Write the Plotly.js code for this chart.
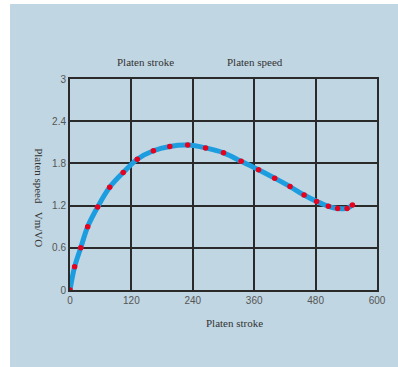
<!DOCTYPE html>
<html><head><meta charset="utf-8">
<script src="https://cdn.plot.ly/plotly-3.0.1.min.js"></script>
<style>
html,body{margin:0;padding:0;background:#fff;}
#bg{position:absolute;left:10px;top:4px;width:388px;height:363px;background:#c0d6e2;}
#chart{position:absolute;left:0;top:0;width:398px;height:367px;}
</style></head>
<body>
<div id="bg"></div>
<div id="chart"></div>
<script>
const stroke = [0, 9, 21, 34.5, 54, 77.5, 104, 131.5, 163, 195, 230, 265, 300, 334.5, 368.5, 400, 430, 457.5, 482, 505, 523, 541.5, 552];
const speed  = [0, 0.33, 0.60, 0.90, 1.18, 1.46, 1.67, 1.86, 1.98, 2.04, 2.06, 2.02, 1.95, 1.83, 1.71, 1.59, 1.47, 1.35, 1.26, 1.19, 1.16, 1.16, 1.21];
const xTicks = [0, 120, 240, 360, 480, 600];
const yTicks = [0, 0.6, 1.2, 1.8, 2.4, 3];

const serif = 'Liberation Serif, Times New Roman, serif';
const sans = 'Liberation Sans, Arial, sans-serif';

const traces = [
  {x: stroke, y: speed, mode: 'lines', line: {color: '#1b9ddf', width: 5, shape: 'spline', smoothing: 1}, hoverinfo: 'skip'},
  {x: stroke, y: speed, mode: 'markers', marker: {color: '#e8001c', size: 5.5}, hoverinfo: 'skip'}
];

const axisCommon = {
  showgrid: true, gridcolor: '#2a2a2a', gridwidth: 2,
  showline: true, linecolor: '#2a2a2a', linewidth: 2, mirror: true,
  zeroline: false, ticks: '', tickfont: {family: sans, size: 10, color: '#555'}
};

const titleFont = {family: serif, size: 11, color: '#333'};

const layout = {
  width: 398, height: 367,
  margin: {l: 70, r: 21, t: 79, b: 77},
  paper_bgcolor: 'rgba(0,0,0,0)', plot_bgcolor: 'rgba(0,0,0,0)',
  showlegend: false,
  xaxis: Object.assign({}, axisCommon, {range: [0, 600], tickvals: xTicks, ticktext: xTicks.map(String)}),
  yaxis: Object.assign({}, axisCommon, {range: [0, 3], tickvals: yTicks, ticktext: yTicks.map(String)}),
  annotations: [
    {xref: 'paper', yref: 'paper', x: 0.245, y: 1.0, yshift: 17, xanchor: 'center', yanchor: 'middle', text: 'Platen stroke', showarrow: false, font: titleFont},
    {xref: 'paper', yref: 'paper', x: 0.603, y: 1.0, yshift: 17, xanchor: 'center', yanchor: 'middle', text: 'Platen speed', showarrow: false, font: titleFont},
    {xref: 'paper', yref: 'paper', x: 0.537, y: 0, yshift: -33, xanchor: 'center', yanchor: 'middle', text: 'Platen stroke', showarrow: false, font: titleFont},
    {xref: 'paper', yref: 'paper', x: 0, xshift: -31, y: 0.44, xanchor: 'center', yanchor: 'middle', text: 'Platen speed&nbsp;&nbsp;&nbsp;Vm/VO', textangle: 90, showarrow: false, font: titleFont}
  ]
};

Plotly.newPlot('chart', traces, layout, {displayModeBar: false, staticPlot: true});
</script>
</body></html>
